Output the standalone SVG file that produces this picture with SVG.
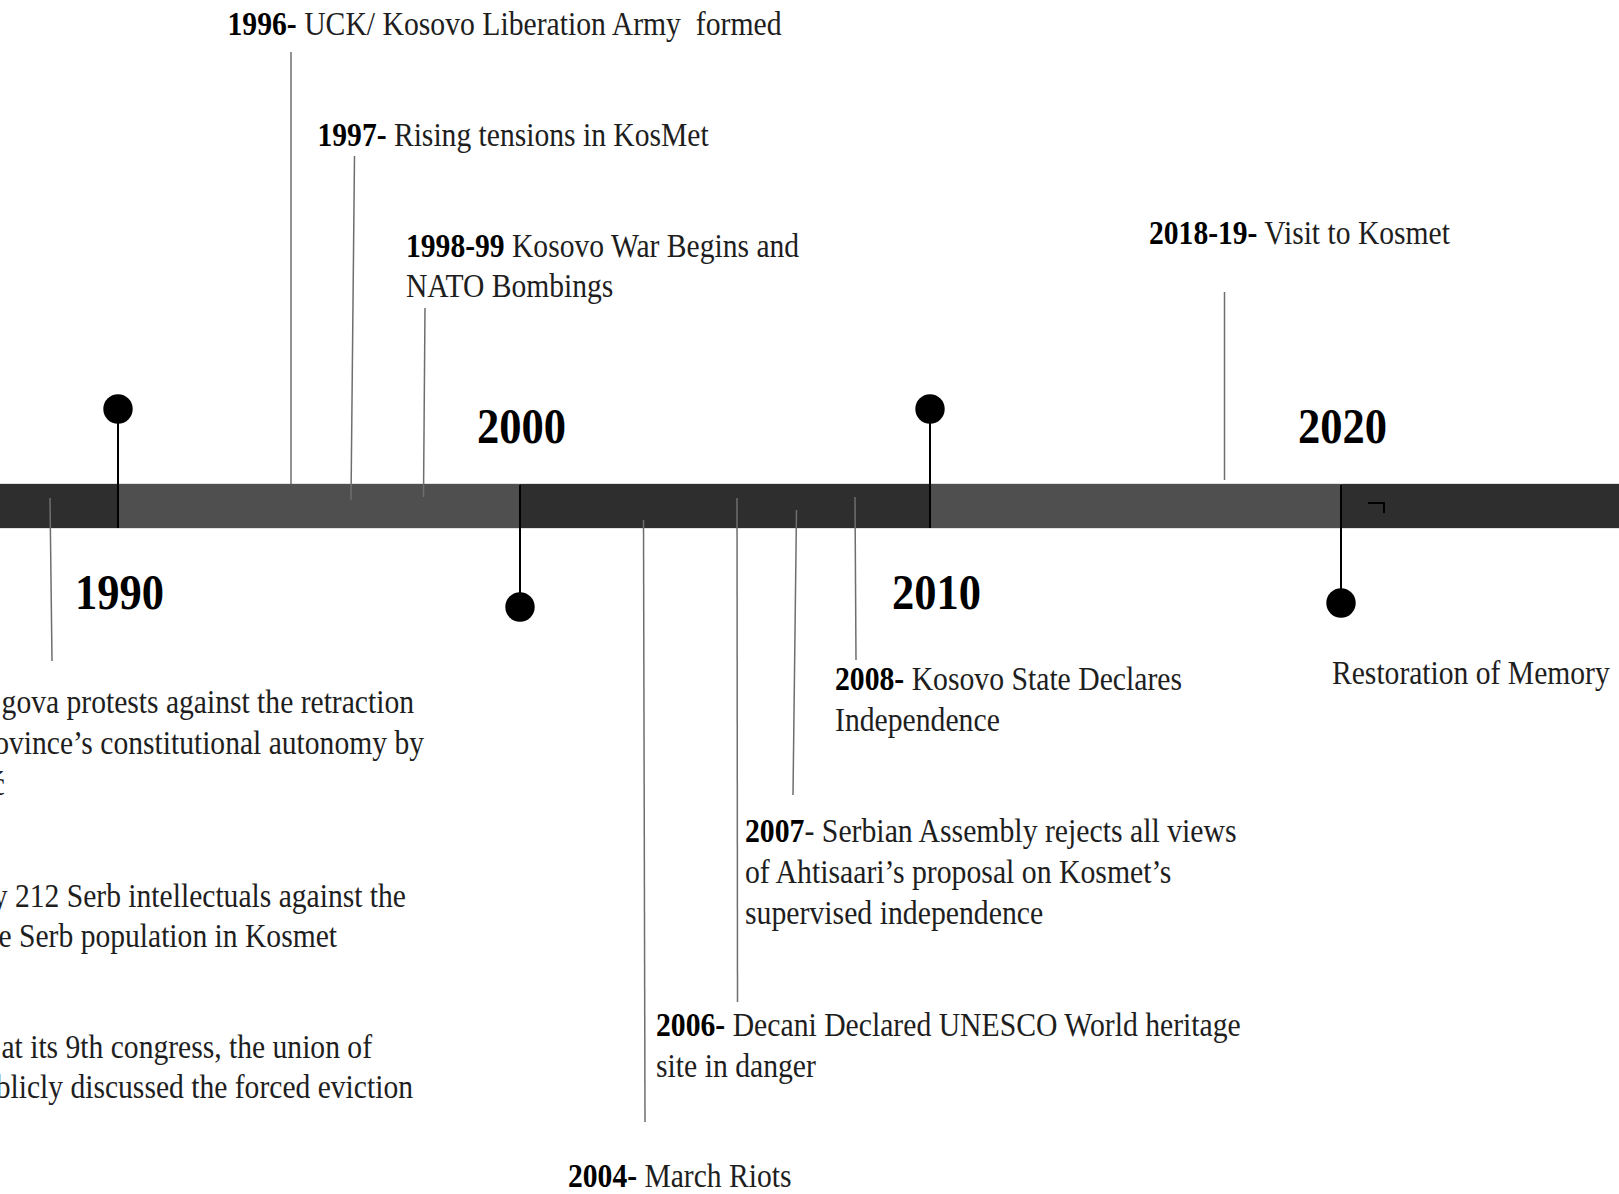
<svg xmlns="http://www.w3.org/2000/svg" width="1619" height="1194" viewBox="0 0 1619 1194">
<style>
.ev{font-family:"Liberation Serif","Times New Roman",serif;font-size:33px;fill:#1e1e1e}
.b{font-weight:bold;fill:#000}
.yr{font-family:"Liberation Serif","Times New Roman",serif;font-size:50px;font-weight:bold;fill:#000}
.conn{stroke:#6e6e6e;stroke-width:1.5;fill:none}
.pin{stroke:#000;stroke-width:2;fill:none}
.dot{fill:#000}
.dk{fill:#2e2e2e}
.md{fill:#4f4f4f}
</style>
<rect x="0" y="0" width="1619" height="1194" fill="#fff"/>
<g id="timeline-bar">
<rect x="0" y="484" width="1619" height="44" fill="none" stroke="#c4c4c4" stroke-width="1"/>
<rect class="dk" x="0" y="484" width="118" height="44"/>
<rect class="md" x="118" y="484" width="402" height="44"/>
<rect class="dk" x="520" y="484" width="409" height="44"/>
<rect class="md" x="929" y="484" width="412" height="44"/>
<rect class="dk" x="1341" y="484" width="278" height="44"/>
<path d="M1368,503 H1384 V513" stroke="#000" stroke-width="2" fill="none"/>
</g>
<g id="connectors">
<line class="conn" x1="291" y1="52" x2="291" y2="484"/>
<line class="conn" x1="354.5" y1="156" x2="351" y2="500"/>
<line class="conn" x1="425" y1="308" x2="423.5" y2="497"/>
<line class="conn" x1="50" y1="498" x2="52" y2="661"/>
<line class="conn" x1="643.5" y1="520" x2="645" y2="1122"/>
<line class="conn" x1="737" y1="498" x2="737.5" y2="1002"/>
<line class="conn" x1="796.5" y1="510" x2="793" y2="795"/>
<line class="conn" x1="855" y1="497" x2="856" y2="660"/>
<line class="conn" x1="1224.5" y1="292" x2="1224.5" y2="480"/>
</g>
<g id="marker-1990">
<line class="pin" x1="118" y1="409" x2="118" y2="528"/>
<circle class="dot" cx="118" cy="409" r="14.7"/>
<text class="yr" transform="translate(75,609) scale(0.89,1)">1990</text>
</g>
<g id="marker-2000">
<line class="pin" x1="520" y1="485" x2="520" y2="607"/>
<circle class="dot" cx="520" cy="607" r="14.7"/>
<text class="yr" transform="translate(477,443) scale(0.89,1)">2000</text>
</g>
<g id="marker-2010">
<line class="pin" x1="930" y1="409" x2="930" y2="528"/>
<circle class="dot" cx="930" cy="409" r="14.7"/>
<text class="yr" transform="translate(892,609) scale(0.89,1)">2010</text>
</g>
<g id="marker-2020">
<line class="pin" x1="1341" y1="485" x2="1341" y2="603"/>
<circle class="dot" cx="1341" cy="603" r="14.7"/>
<text class="yr" transform="translate(1298,443) scale(0.89,1)">2020</text>
</g>
<g id="event-1996">
<text class="ev" transform="translate(227.5,35) scale(0.9,1)"><tspan class="b">1996-</tspan> UCK/ Kosovo Liberation Army &#160;formed</text>
</g>
<g id="event-1997">
<text class="ev" transform="translate(317.5,146) scale(0.897,1)"><tspan class="b">1997-</tspan> Rising tensions in KosMet</text>
</g>
<g id="event-1998">
<text class="ev" transform="translate(406,257) scale(0.897,1)"><tspan class="b">1998-99</tspan> Kosovo War Begins and<tspan x="0" y="40">NATO Bombings</tspan></text>
</g>
<g id="event-2018">
<text class="ev" transform="translate(1149,243.5) scale(0.897,1)"><tspan class="b">2018-19-</tspan> Visit to Kosmet</text>
</g>
<g id="event-2020">
<text class="ev" transform="translate(1332,684) scale(0.897,1)">Restoration of Memory</text>
</g>
<g id="event-2008">
<text class="ev" transform="translate(835,690) scale(0.9,1)"><tspan class="b">2008-</tspan> Kosovo State Declares<tspan x="0" y="41">Independence</tspan></text>
</g>
<g id="event-2007">
<text class="ev" transform="translate(745,841.5) scale(0.902,1)"><tspan class="b">2007</tspan>- Serbian Assembly rejects all views<tspan x="0" y="41.5">of Ahtisaari’s proposal on Kosmet’s</tspan><tspan x="0" y="82.5">supervised independence</tspan></text>
</g>
<g id="event-2006">
<text class="ev" transform="translate(656,1035.5) scale(0.9,1)"><tspan class="b">2006-</tspan> Decani Declared UNESCO World heritage<tspan x="0" y="41.5">site in danger</tspan></text>
</g>
<g id="event-2004">
<text class="ev" transform="translate(568,1186.5) scale(0.897,1)"><tspan class="b">2004-</tspan> March Riots</text>
</g>
<g id="event-1990-a">
<text class="ev" text-anchor="end" transform="translate(414,712.5) scale(0.897,1)">gova protests against the retraction</text>
<text class="ev" text-anchor="end" transform="translate(424,753.5) scale(0.897,1)">ovince’s constitutional autonomy by</text>
<text class="ev" text-anchor="end" transform="translate(5,795) scale(0.897,1)">ć</text>
</g>
<g id="event-1990-b">
<text class="ev" text-anchor="end" transform="translate(406,906.5) scale(0.897,1)">y 212 Serb intellectuals against the</text>
<text class="ev" text-anchor="end" transform="translate(337,947) scale(0.897,1)">e Serb population in Kosmet</text>
</g>
<g id="event-1990-c">
<text class="ev" text-anchor="end" transform="translate(372,1058) scale(0.897,1)">at its 9th congress, the union of</text>
<text class="ev" text-anchor="end" transform="translate(413,1098) scale(0.897,1)">blicly discussed the forced eviction</text>
</g>
</svg>
